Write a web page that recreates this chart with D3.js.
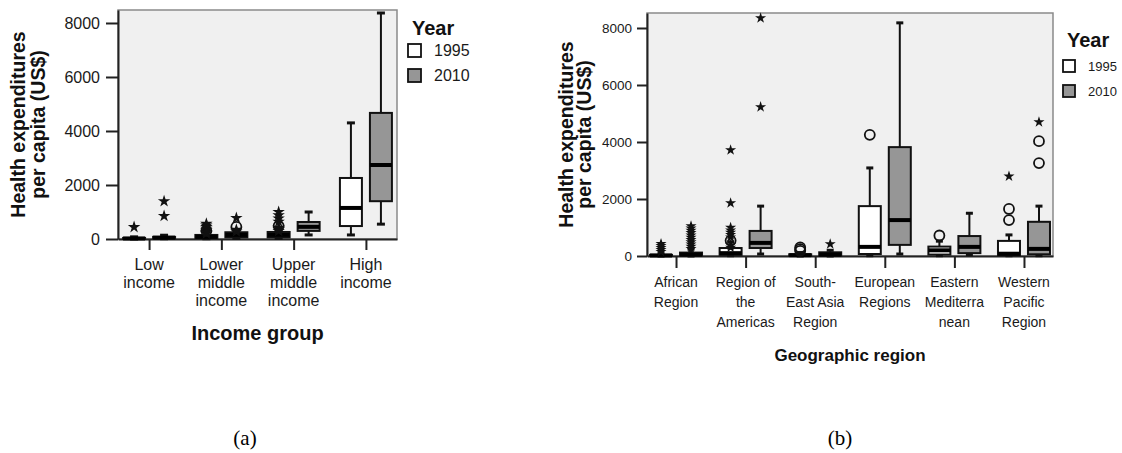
<!DOCTYPE html>
<html lang="en">
<head>
<meta charset="UTF-8">
<title>Health expenditures per capita, 1995 and 2010</title>
<script src="https://d3js.org/d3.v7.min.js"></script>
<style>
  body { margin: 0; background: #fff; }
  svg text { font-family: Arial, "Liberation Sans", sans-serif; fill: #1a1a1a; }
  .title { font-weight: bold; fill: #111; }
  .panel { font-family: "Liberation Serif", "Times New Roman", serif; fill: #000; }
</style>
</head>
<body>
<svg width="1122" height="453"></svg>
<script>
const years = ["1995", "2010"];

// (a) income group -- each box is [lowWhisker, q1, median, q3, highWhisker]
const incomeLabels = [["Low", "income"], ["Lower", "middle", "income"], ["Upper", "middle", "income"], ["High", "income"]];
const income1995 = [[0, 10, 20, 40, 80], [10, 40, 80, 150, 280], [20, 60, 150, 260, 380], [150, 480, 1150, 2260, 4300]];
const income2010 = [[10, 30, 50, 80, 140], [20, 60, 150, 250, 330], [150, 300, 450, 630, 1000], [550, 1400, 2740, 4670, 8370]];
const incomeCircles1995 = [[], [300], [480], []];
const incomeStars1995 = [[440], [200, 260, 320, 380, 440, 500, 560], [300, 360, 420, 640, 760, 880, 1000], []];
const incomeCircles2010 = [[], [450], [], []];
const incomeStars2010 = [[850, 1400], [280, 340, 780], [], []];
const incomeTicks = [0, 2000, 4000, 6000, 8000];

// (b) geographic region
const regionLabels = [["African", "Region"], ["Region of", "the", "Americas"], ["South-", "East Asia", "Region"],
                      ["European", "Regions"], ["Eastern", "Mediterra", "nean"], ["Western", "Pacific", "Region"]];
const region1995 = [[0, 10, 20, 40, 80], [10, 40, 100, 280, 500], [0, 10, 30, 60, 120],
                    [10, 70, 320, 1750, 3090], [10, 50, 200, 330, 520], [10, 30, 80, 530, 740]];
const region2010 = [[0, 20, 50, 120, 250], [70, 280, 460, 880, 1750], [0, 20, 50, 130, 200],
                    [70, 390, 1260, 3820, 8180], [50, 100, 320, 700, 1500], [10, 60, 250, 1200, 1750]];
const regionCircles1995 = [[], [540], [180, 240, 300], [4250], [720], [1260, 1650]];
const regionStars1995 = [[150, 220, 290, 360, 430], [300, 380, 660, 740, 820, 900, 1000, 1860, 3720], [], [], [], [2800]];
const regionCircles2010 = [[], [], [], [], [], [3260, 4030]];
const regionStars2010 = [[250, 330, 410, 490, 570, 650, 730, 810, 890, 970, 1050], [5230, 8350], [420], [], [], [4700]];
const regionTicks = [0, 2000, 4000, 6000, 8000];

const svg = d3.select("svg");
const fills = {"1995": "#ffffff", "2010": "#969696"};

function drawPanel(p) {
  const g = svg.append("g");
  const x = d3.scalePoint().domain(d3.range(p.labels.length)).range([p.x0, p.x1]).padding(p.pad);
  const xSub = d3.scalePoint().domain(years).range([-15, 15]);
  const y = d3.scaleLinear().domain([0, p.yMax]).range([p.y0, p.y1]);

  g.append("rect")
    .attr("x", p.x0).attr("y", p.y1)
    .attr("width", p.x1 - p.x0).attr("height", p.y0 - p.y1)
    .attr("fill", "#f0f0f0").attr("stroke", "#8a8a8a").attr("stroke-width", 1.5);

  // y axis
  const ya = g.append("g")
    .attr("transform", `translate(${p.x0},0)`)
    .call(d3.axisLeft(y).tickValues(p.ticks).tickSize(p.yTick).tickSizeOuter(0).tickPadding(p.yPad).tickFormat(d3.format("d")));
  ya.selectAll("path, line").attr("stroke", "#222").attr("stroke-width", 2);
  ya.selectAll("text").style("font-size", p.tickFont + "px").attr("fill", "#222");

  // x axis with multi-line labels
  const xa = g.append("g")
    .attr("transform", `translate(0,${p.y0})`)
    .call(d3.axisBottom(x).tickSize(p.xTick).tickSizeOuter(0).tickFormat(""));
  xa.selectAll("path, line").attr("stroke", "#222").attr("stroke-width", 2);
  xa.selectAll(".tick text").remove();
  p.labels.forEach((lines, i) => {
    const t = g.append("text")
      .attr("text-anchor", "middle")
      .style("font-size", p.catFont + "px");
    lines.forEach((s, k) => {
      t.append("tspan").attr("x", x(i)).attr("y", p.y0 + p.labelTop + k * p.lineGap).text(s);
    });
  });

  // boxes
  const series = [
    {year: "1995", boxes: p.b1995, circles: p.c1995, stars: p.s1995},
    {year: "2010", boxes: p.b2010, circles: p.c2010, stars: p.s2010}
  ];
  const bw = p.boxW, cw = p.capW;
  series.forEach(s => {
    const sg = g.append("g");
    s.boxes.forEach((b, i) => {
      const cx = x(i) + xSub(s.year);
      const [lo, q1, med, q3, hi] = b;
      sg.append("line").attr("x1", cx).attr("x2", cx).attr("y1", y(lo)).attr("y2", y(q1))
        .attr("stroke", "#111").attr("stroke-width", 2);
      sg.append("line").attr("x1", cx).attr("x2", cx).attr("y1", y(q3)).attr("y2", y(hi))
        .attr("stroke", "#111").attr("stroke-width", 2);
      [lo, hi].forEach(v => {
        sg.append("line").attr("x1", cx - cw / 2).attr("x2", cx + cw / 2).attr("y1", y(v)).attr("y2", y(v))
          .attr("stroke", "#111").attr("stroke-width", 3);
      });
      sg.append("rect")
        .attr("x", cx - bw / 2).attr("width", bw)
        .attr("y", y(q3)).attr("height", Math.max(y(q1) - y(q3), 1))
        .attr("fill", fills[s.year]).attr("stroke", "#111").attr("stroke-width", 2);
      sg.append("line").attr("x1", cx - bw / 2).attr("x2", cx + bw / 2).attr("y1", y(med)).attr("y2", y(med))
        .attr("stroke", "#000").attr("stroke-width", 4);
    });
    s.circles.forEach((vals, i) => {
      const cx = x(i) + xSub(s.year);
      sg.selectAll(null).data(vals).enter().append("circle")
        .attr("cx", cx).attr("cy", d => y(d)).attr("r", p.circR)
        .attr("fill", "none").attr("stroke", "#111").attr("stroke-width", 1.8);
    });
    s.stars.forEach((vals, i) => {
      const cx = x(i) + xSub(s.year);
      sg.selectAll(null).data(vals).enter().append("path")
        .attr("d", d3.symbol().type(d3.symbolStar).size(p.starSize))
        .attr("transform", d => `translate(${cx},${y(d)})`)
        .attr("fill", "#111");
    });
  });

  // axis titles
  const yt = g.append("text").attr("class", "title")
    .attr("text-anchor", "middle")
    .attr("transform", `translate(0,${(p.y0 + p.y1) / 2}) rotate(-90)`)
    .style("font-size", p.yTitleFont + "px");
  p.yTitleX.forEach((bx, k) => {
    yt.append("tspan").attr("x", 0).attr("y", bx).text(k === 0 ? "Health expenditures" : "per capita (US$)");
  });
  g.append("text").attr("class", "title")
    .attr("x", (p.x0 + p.x1) / 2).attr("y", p.xTitleY)
    .attr("text-anchor", "middle")
    .style("font-size", p.xTitleFont + "px")
    .text(p.xTitle);

  // legend
  const lg = g.append("g");
  lg.append("text").attr("class", "title").attr("x", p.legX + 4).attr("y", p.legY)
    .style("font-size", "20px").text("Year");
  years.forEach((yr, k) => {
    lg.append("rect")
      .attr("x", p.legX).attr("y", p.legY + p.legBox0 + k * p.legGap)
      .attr("width", p.legSize).attr("height", p.legSize)
      .attr("fill", fills[yr]).attr("stroke", "#111").attr("stroke-width", 1.8);
    lg.append("text")
      .attr("x", p.legX + p.legSize + 13).attr("y", p.legY + p.legBox0 + k * p.legGap + p.legSize - 1)
      .style("font-size", p.legFont + "px").text(yr);
  });

  svg.append("text").attr("class", "panel")
    .attr("x", p.panelX).attr("y", 445)
    .attr("text-anchor", "middle").style("font-size", "21px")
    .text(p.panel);
}

drawPanel({
  labels: incomeLabels, b1995: income1995, b2010: income2010,
  c1995: incomeCircles1995, s1995: incomeStars1995, c2010: incomeCircles2010, s2010: incomeStars2010,
  ticks: incomeTicks, x0: 118, x1: 397, y0: 239, y1: 10, yMax: 8481, pad: 0.43,
  yTick: 12, yPad: 6, tickFont: 16, xTick: 11, catFont: 16, labelTop: 31, lineGap: 18,
  boxW: 22, capW: 8, circR: 5, starSize: 48,
  yTitleX: [25, 45], yTitleFont: 19.5, xTitle: "Income group", xTitleY: 340, xTitleFont: 20,
  legX: 408, legY: 35, legBox0: 9, legGap: 25, legSize: 13, legFont: 16,
  panel: "(a)", panelX: 245
});

drawPanel({
  labels: regionLabels, b1995: region1995, b2010: region2010,
  c1995: regionCircles1995, s1995: regionStars1995, c2010: regionCircles2010, s2010: regionStars2010,
  ticks: regionTicks, x0: 647, x1: 1053, y0: 256, y1: 13, yMax: 8526, pad: 0.417,
  yTick: 10, yPad: 5, tickFont: 13.5, xTick: 12, catFont: 14, labelTop: 31, lineGap: 20,
  boxW: 22, capW: 7, circR: 5, starSize: 38,
  yTitleX: [573, 591], yTitleFont: 19.5, xTitle: "Geographic region", xTitleY: 361, xTitleFont: 17,
  legX: 1063, legY: 47, legBox0: 13, legGap: 25, legSize: 12, legFont: 13,
  panel: "(b)", panelX: 840
});
</script>
</body>
</html>
